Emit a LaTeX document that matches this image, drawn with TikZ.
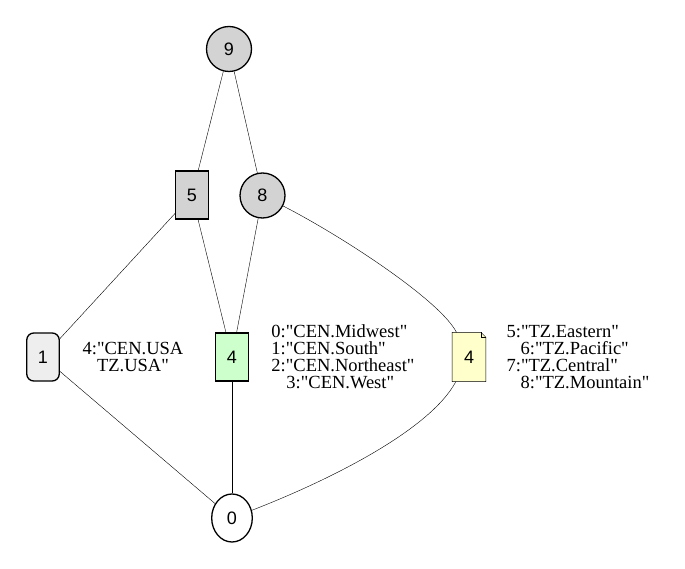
\documentclass[tikz,border=0pt]{standalone}
\usepackage{fontspec}
\setmainfont{Liberation Serif}[Ligatures=TeXOff]
\setsansfont{Liberation Sans}
\usetikzlibrary{positioning, shapes.geometric, backgrounds}

\definecolor{ballgray}{HTML}{D3D3D3}
\definecolor{boxgray}{HTML}{EEEEEE}
\definecolor{cengreen}{HTML}{CCFFCC}
\definecolor{tzyellow}{HTML}{FFFFCC}

\begin{document}
\begin{tikzpicture}[x=1pt, y=-1pt, line width=1.3pt,
    num/.style={draw, font=\sffamily\fontsize{18}{18}\selectfont, inner sep=0pt},
    ball/.style={num, circle, fill=ballgray, minimum size=45pt},
    box/.style={num, rectangle, minimum width=32.5pt, minimum height=48pt},
    lbl/.style={font=\fontsize{18.5}{17}\selectfont, inner sep=0pt}]
    \useasboundingbox (0,0) rectangle (685,569);

    \node [ball] (n9) at (229,49) {9};
    \node [box, fill=ballgray] (n5) at (192,195) {5};
    \node [ball] (n8) at (262.5,195.5) {8};
    \node [box, fill=boxgray, rounded corners=7pt] (n1) at (43,357) {1};
    \node [box, fill=cengreen] (cen) at (232,357) {4};
    \node [box, draw=none] (tz) at (469,357) {4};
    \node [num, ellipse, minimum width=40.6pt, minimum height=48pt] (n0) at (232,518) {0};

    % note outline behind the node text
    \begin{pgfonlayer}{background}
        \draw [fill=tzyellow] (tz.south west) -- (tz.south east) -- ([yshift=-5]tz.north east)
            -- ([xshift=-5]tz.north east) -- (tz.north west) -- cycle;
        \draw [line width=0.8pt] ([xshift=-5]tz.north east) -- ([xshift=-5, yshift=-5]tz.north east)
            -- ([yshift=-5]tz.north east);
    \end{pgfonlayer}

    \node [lbl, align=center] (usa) at (133,357) {4:"CEN.USA\\TZ.USA"};
    \node [lbl, align=left] (cenlbl) at (343,357) {0:"CEN.Midwest"\\1:"CEN.South"\\2:"CEN.Northeast"\\\hspace*{15pt}3:"CEN.West"};
    \node [lbl, align=left] (tzlbl) at (578,357) {5:"TZ.Eastern"\\\hspace*{14pt}6:"TZ.Pacific"\\7:"TZ.Central"\\\hspace*{14pt}8:"TZ.Mountain"};

    \draw (n9) -- (n5);
    \draw (n9) -- (n8);
    \draw (n5) -- (n1);
    \draw (n5) -- (cen);
    \draw (n8) -- (cen);
    \draw (n8) .. controls (340,235) and (440,300) .. (tz);
    \draw (n1) -- (n0);
    \draw (cen) -- (n0);
    \draw (tz) .. controls (430,430) and (330,480) .. (n0);
\end{tikzpicture}
\end{document}
